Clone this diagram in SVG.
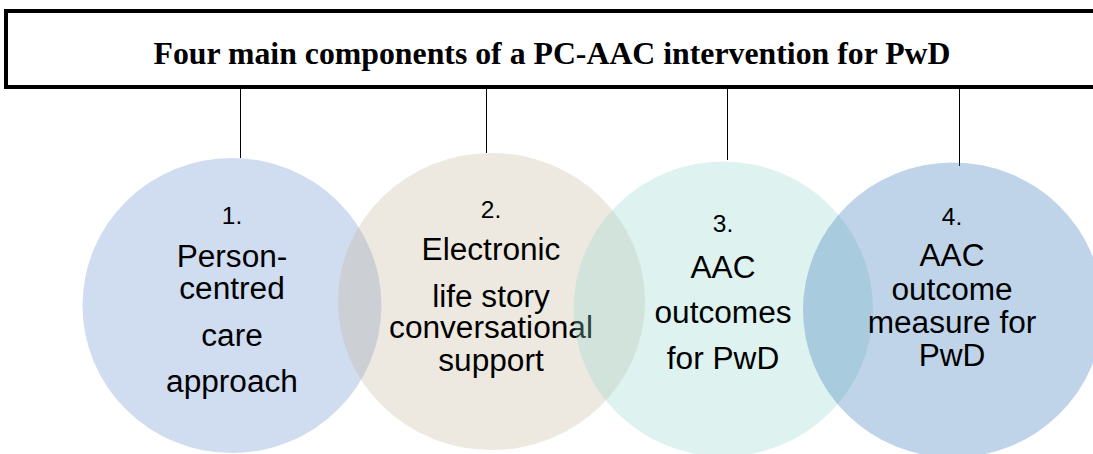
<svg xmlns="http://www.w3.org/2000/svg" width="1093" height="454" viewBox="0 0 1093 454">
  <style>
    .frame { fill: #ffffff; stroke: #000000; stroke-width: 4; }
    .title { font-family: "Liberation Serif", "Times New Roman", serif; font-weight: bold; font-size: 32px; fill: #000000; }
    .link { stroke: #000000; stroke-width: 1; fill: none; }
    .bubble { fill-opacity: 0.3; stroke: none; }
    .num { font-family: "Liberation Sans", Arial, sans-serif; font-size: 24px; fill: #000000; text-anchor: middle; }
    .lbl { font-family: "Liberation Sans", Arial, sans-serif; font-size: 31px; fill: #000000; text-anchor: middle; }
  </style>

  <rect width="1093" height="454" fill="#ffffff"/>

  <!-- heading bar -->
  <g id="header">
    <rect class="frame" x="6" y="11" width="1110" height="76"/>
    <text class="title" x="153.5" y="64" textLength="797" lengthAdjust="spacingAndGlyphs">Four main components of a PC-AAC intervention for PwD</text>
  </g>

  <!-- drop lines from the heading bar to each component -->
  <g id="connectors">
    <line class="link" x1="240.5" y1="89" x2="240.5" y2="158"/>
    <line class="link" x1="486.5" y1="89" x2="486.5" y2="153"/>
    <line class="link" x1="727.5" y1="89" x2="727.5" y2="160"/>
    <line class="link" x1="959.5" y1="89" x2="959.5" y2="166"/>
  </g>

  <g id="component-1">
    <ellipse class="bubble" cx="232" cy="305.5" rx="149.5" ry="147.5" fill="#628ACD"/>
    <g transform="translate(232,0) scale(1.02,1)">
      <text class="num" x="0" y="224">1.</text>
      <text class="lbl" x="0" y="267">Person-</text>
      <text class="lbl" x="0" y="299">centred</text>
      <text class="lbl" x="0" y="346">care</text>
      <text class="lbl" x="0" y="392">approach</text>
    </g>
  </g>

  <g id="component-2">
    <ellipse class="bubble" cx="491.5" cy="301.5" rx="153.5" ry="148.5" fill="#C3B698"/>
    <g transform="translate(491,0) scale(1.02,1)">
      <text class="num" x="0" y="218">2.</text>
      <text class="lbl" x="0" y="260">Electronic</text>
      <text class="lbl" x="0" y="307">life story</text>
      <text class="lbl" x="0" y="338">conversational</text>
      <text class="lbl" x="0" y="371">support</text>
    </g>
  </g>

  <g id="component-3">
    <ellipse class="bubble" cx="723.3" cy="309" rx="149.7" ry="147.5" fill="#91D7CD"/>
    <g transform="translate(723,0) scale(1.02,1)">
      <text class="num" x="0" y="232">3.</text>
      <text class="lbl" x="0" y="278">AAC</text>
      <text class="lbl" x="0" y="323">outcomes</text>
      <text class="lbl" x="0" y="369">for PwD</text>
    </g>
  </g>

  <g id="component-4">
    <ellipse class="bubble" cx="953" cy="310" rx="150" ry="147.5" fill="#2A70B6"/>
    <g transform="translate(952,0) scale(1.02,1)">
      <text class="num" x="0" y="225">4.</text>
      <text class="lbl" x="0" y="266">AAC</text>
      <text class="lbl" x="0" y="300">outcome</text>
      <text class="lbl" x="0" y="333">measure for</text>
      <text class="lbl" x="0" y="366">PwD</text>
    </g>
  </g>
</svg>
